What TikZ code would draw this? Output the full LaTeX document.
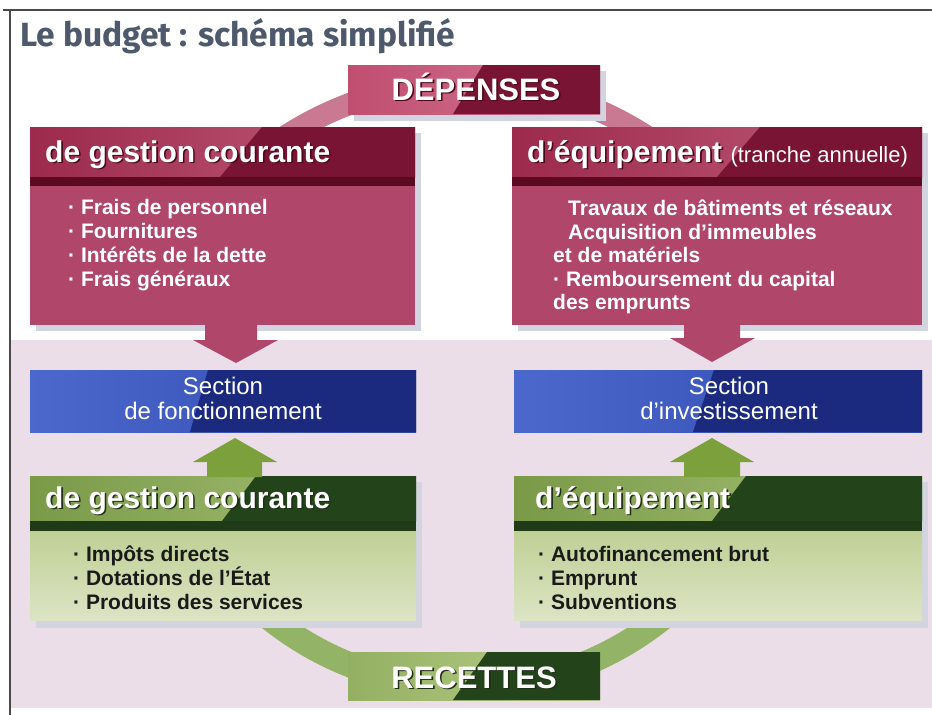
\documentclass[tikz,border=0pt]{standalone}
\usepackage{fontspec}
\usepackage{graphicx}
\setmainfont{Liberation Sans}
\newfontfamily\titlefont{Fira Sans}
\usetikzlibrary{calc}

\definecolor{frameC}{HTML}{4A4A4A}
\definecolor{titleC}{HTML}{4E5A6B}
\definecolor{bgpink}{HTML}{ECDEE8}
\definecolor{shadowC}{HTML}{D2D4DF}
\definecolor{redA}{HTML}{9C2A4C}
\definecolor{redB}{HTML}{C25E7C}
\definecolor{redD}{HTML}{7A1434}
\definecolor{redStrip}{HTML}{5C0A22}
\definecolor{redBody}{HTML}{B0476A}
\definecolor{ringR}{HTML}{C97A92}
\definecolor{depA}{HTML}{C04E70}
\definecolor{depB}{HTML}{D27893}
\definecolor{blueA}{HTML}{4C68CC}
\definecolor{blueB}{HTML}{2E4AAE}
\definecolor{blueD}{HTML}{1B2A7E}
\definecolor{greenA}{HTML}{7A9A48}
\definecolor{greenB}{HTML}{A9C27A}
\definecolor{greenD}{HTML}{23441A}
\definecolor{greenStrip}{HTML}{1E3A16}
\definecolor{greenBodyT}{HTML}{BFD095}
\definecolor{greenBodyB}{HTML}{DCE4C4}
\definecolor{ringG}{HTML}{93B466}
\definecolor{arrG}{HTML}{7BA03C}
\definecolor{recA}{HTML}{93B062}
\definecolor{recB}{HTML}{BCD08E}
\definecolor{greenText}{HTML}{1A1A1A}
\definecolor{shR}{HTML}{4A0818}
\definecolor{shG}{HTML}{1E3014}

\newcommand{\shtext}[2]{\makebox[0pt][l]{\hspace{1.6pt}\raisebox{-1.6pt}{\textcolor{#1}{#2}}}#2}

\begin{document}
\begin{tikzpicture}[x=1pt,y=-1pt,
  box/.style={anchor=north west, inner sep=0pt, outer sep=0pt, draw=none},
  darkpart/.style n args={3}{path picture={\fill[#1] ([xshift=#2]path picture bounding box.north west) -- (path picture bounding box.north east) -- (path picture bounding box.south east) -- ([xshift=#3]path picture bounding box.south west) -- cycle;}},
  hdrtext/.style={anchor=base west, inner sep=0pt, text=white, font=\bfseries\fontsize{30}{36}\selectfont},
  bigtext/.style={anchor=base, inner sep=0pt, text=white, font=\bfseries\fontsize{31}{36}\selectfont},
  bodyR/.style={anchor=base west, inner sep=0pt, text=white, font=\bfseries\fontsize{21}{24}\selectfont},
  bodyG/.style={anchor=base west, inner sep=0pt, text=greenText, font=\bfseries\fontsize{21}{24}\selectfont},
  sectext/.style={align=center, inner sep=0pt, text=white, font=\fontsize{24}{25}\selectfont},
]
\useasboundingbox (0,0) rectangle (932,715);
\fill[white] (0,0) rectangle (932,715);
\fill[bgpink] (11,340) rectangle (932,708);
\draw[frameC,line width=1.6pt] (3,10) -- (932,10);
\draw[frameC,line width=1.6pt] (10,10) -- (10,715);

\node[anchor=base west, inner sep=0pt, text=titleC] (title) at (20,46)
  {\resizebox{435pt}{28pt}{\titlefont\bfseries Le budget : schéma simplifié}};

% rings
\begin{scope}
  \clip (0,55) rectangle (932,132);
  \draw[ringR, line width=22pt] (466,415) circle[radius=332];
\end{scope}
\begin{scope}
  \clip (0,560) rectangle (932,708);
  \draw[ringG, line width=25pt] (466,373) circle[radius=314];
\end{scope}

% shadows
\fill[shadowC] (354,71) rectangle (606,121);
\fill[shadowC] (36,133) rectangle (421,331);
\fill[shadowC] (518,133) rectangle (928,331);
\fill[shadowC] (36,482) rectangle (422,628);
\fill[shadowC] (520,482) rectangle (928,628);

% DEPENSES
\node[box, minimum width=252pt, minimum height=49pt, left color=depA, right color=depB,
  darkpart={redD}{135pt}{105pt}] (dep) at (348,65) {};
\node[bigtext] (depT) at (476,100) {\shtext{shR}{DÉPENSES}};

% red left
\node[box, minimum width=385pt, minimum height=50pt, left color=redA, right color=redB,
  darkpart={redD}{232pt}{190pt}] (rlh) at (30,127) {};
\node[box, minimum width=385pt, minimum height=9pt, fill=redStrip] (rls) at (30,177) {};
\node[box, minimum width=385pt, minimum height=139pt, fill=redBody] (rlb) at (30,186) {};
% red right
\node[box, minimum width=410pt, minimum height=50pt, left color=redA, right color=redB,
  darkpart={redD}{248pt}{205pt}] (rrh) at (512,127) {};
\node[box, minimum width=410pt, minimum height=9pt, fill=redStrip] (rrs) at (512,177) {};
\node[box, minimum width=410pt, minimum height=139pt, fill=redBody] (rrb) at (512,186) {};

% blue
\node[box, minimum width=386pt, minimum height=62pt, left color=blueA, right color=blueB,
  darkpart={blueD}{178pt}{160pt}] (blL) at (30,370) {};
\node[box, minimum width=408pt, minimum height=62pt, left color=blueA, right color=blueB,
  darkpart={blueD}{200pt}{179pt}] (blR) at (514,370) {};

% green left
\node[box, minimum width=386pt, minimum height=45pt, left color=greenA, right color=greenB,
  darkpart={greenD}{226pt}{192pt}] (glh) at (30,476) {};
\node[box, minimum width=386pt, minimum height=10pt, fill=greenStrip] (gls) at (30,521) {};
\node[box, minimum width=386pt, minimum height=89pt, top color=greenBodyT, bottom color=greenBodyB] (glb) at (30,531) {};
% green right
\node[box, minimum width=408pt, minimum height=45pt, left color=greenA, right color=greenB,
  darkpart={greenD}{232pt}{198pt}] (grh) at (514,476) {};
\node[box, minimum width=408pt, minimum height=10pt, fill=greenStrip] (grs) at (514,521) {};
\node[box, minimum width=408pt, minimum height=89pt, top color=greenBodyT, bottom color=greenBodyB] (grb) at (514,531) {};

% RECETTES
\node[box, minimum width=252pt, minimum height=48pt, left color=recA, right color=recB,
  darkpart={greenD}{139pt}{105pt}] (rec) at (348,652) {};
\node[bigtext] (recT) at (474,688) {\shtext{shG}{RECETTES}};

% block arrows
\fill[redBody] ($(rlb.south west)+(175,-1)$) -- ++(52,0) -- ++(0,16) -- ++(21,0)
  -- ($(blL.north west)+(206,-7)$) -- ++(-43,-23) -- ++(12,0) -- cycle;
\fill[redBody] ($(rrb.south west)+(172,-1)$) -- ++(56,0) -- ++(0,14) -- ++(15,0)
  -- ($(blR.north west)+(198,-8)$) -- ++(-42,-24) -- ++(14,0) -- cycle;
\fill[arrG] ($(glh.north west)+(177,1)$) -- ++(0,-15) -- ++(-14,0)
  -- ($(blL.south west)+(205,6)$) -- ++(42,24) -- ++(-15,0) -- ++(0,15) -- cycle;
\fill[arrG] ($(grh.north west)+(170,1)$) -- ++(0,-15) -- ++(-14,0)
  -- ($(blR.south west)+(198,6)$) -- ++(42,24) -- ++(-14,0) -- ++(0,15) -- cycle;

% header texts
\node[hdrtext] (t1) at (45,162) {\shtext{shR}{de gestion courante}};
\node[hdrtext] (t2) at (527,162) {\shtext{shR}{d’équipement} {\mdseries\fontsize{22}{26}\selectfont(tranche annuelle)}};
\node[hdrtext] (t3) at (45,508) {\shtext{shG}{de gestion courante}};
\node[hdrtext] (t4) at (535,508) {\shtext{shG}{d’équipement}};

% red bodies
\node[bodyR] (r1) at (68,214) {· Frais de personnel};
\node[bodyR] (r2) at (68,238) {· Fournitures};
\node[bodyR] (r3) at (68,262) {· Intérêts de la dette};
\node[bodyR] (r4) at (68,286) {· Frais généraux};

\node[bodyR] (s1) at (568,215) {Travaux de bâtiments et réseaux};
\node[bodyR] (s2) at (568,239) {Acquisition d’immeubles};
\node[bodyR] (s3) at (553,262) {et de matériels};
\node[bodyR] (s4) at (553,286) {· Remboursement du capital};
\node[bodyR] (s5) at (553,309) {des emprunts};

% blue texts
\node[sectext] (b1) at (223,398) {Section\\de fonctionnement};
\node[sectext] (b2) at (729,398) {Section\\d’investissement};

% green bodies
\node[bodyG] (g1) at (73,561) {· Impôts directs};
\node[bodyG] (g2) at (73,585) {· Dotations de l’État};
\node[bodyG] (g3) at (73,609) {· Produits des services};
\node[bodyG] (h1) at (538,561) {· Autofinancement brut};
\node[bodyG] (h2) at (538,585) {· Emprunt};
\node[bodyG] (h3) at (538,609) {· Subventions};
\end{tikzpicture}
\end{document}
